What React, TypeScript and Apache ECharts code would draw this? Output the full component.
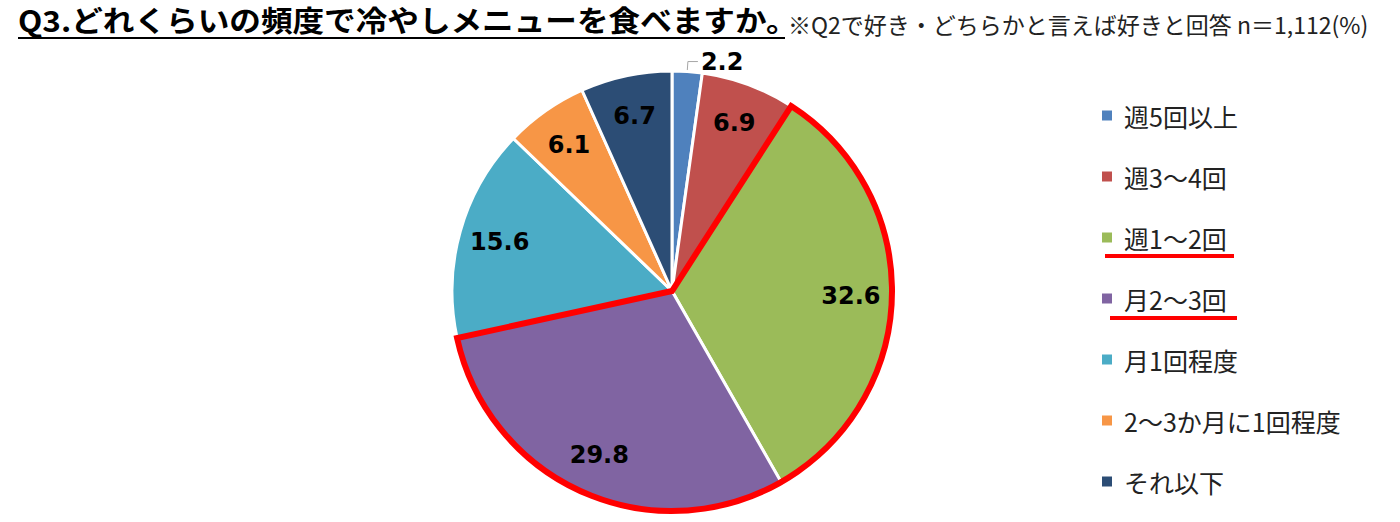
import React, { useEffect, useRef } from "react";
import * as echarts from "echarts";

const categories = ["週5回以上", "週3～4回", "週1～2回", "月2～3回", "月1回程度", "2～3か月に1回程度", "それ以下"];
const values = [2.2, 6.9, 32.6, 29.8, 15.6, 6.1, 6.7];
const colors = ["#4F81BD", "#C0504D", "#9BBB59", "#8064A2", "#4BACC6", "#F79646", "#2C4D75"];
const highlighted = [2, 3];
const titleText = "Q3.どれくらいの頻度で冷やしメニューを食べますか。";
const subText = "※Q2で好き・どちらかと言えば好きと回答 n＝1,112(%)";

export default function App() {
  const ref = useRef<HTMLDivElement>(null);
  useEffect(() => {
    document.body.style.margin = "0";
    const chart = echarts.init(ref.current!, null, { renderer: "svg" });
    const center = [672, 291];
    const R = 220;
    const sum = (a: number[]) => Math.round(a.reduce((s, x) => s + x, 0) * 10) / 10;
    const before = sum(values.slice(0, highlighted[0]));
    const mid = sum(values.slice(highlighted[0], highlighted[1] + 1));
    const after = sum(values.slice(highlighted[1] + 1));
    const cjk = "'Noto Sans CJK JP', 'Noto Sans', sans-serif";
    chart.setOption({
      animation: false,
      legend: {
        data: categories,
        orient: "vertical",
        left: 1100,
        top: 103,
        padding: 0,
        itemWidth: 12,
        itemHeight: 12,
        itemGap: 36,
        icon: "rect",
        selectedMode: false,
        textStyle: { fontSize: 25, lineHeight: 25, color: "#222", fontFamily: cjk, padding: [0, 0, 0, 6] },
      },
      series: [
        {
          type: "pie",
          center,
          radius: R,
          startAngle: 90,
          silent: true,
          label: { show: false },
          labelLine: { show: false },
          itemStyle: { borderColor: "#fff", borderWidth: 3 },
          data: categories.map((c, i) => ({ name: c, value: values[i], itemStyle: { color: colors[i] } })),
        },
        {
          type: "pie",
          center,
          radius: [R * 0.6, R],
          startAngle: 90,
          silent: true,
          avoidLabelOverlap: false,
          itemStyle: { color: "transparent", borderWidth: 0 },
          label: {
            show: true,
            position: "inside",
            formatter: (p: any) => p.value.toFixed(1),
            fontSize: 24,
            fontWeight: "bold",
            color: "#000",
            fontFamily: "'DejaVu Sans', sans-serif",
          },
          labelLine: { show: false },
          data: categories.map((c, i) =>
            i === 0
              ? {
                  name: c,
                  value: values[i],
                  label: { position: "outside", distanceToLabelLine: 3 },
                  labelLine: { show: true, length: 10, length2: 10, lineStyle: { color: "#A6A6A6", width: 1 } },
                }
              : { name: c, value: values[i] }
          ),
        },
        {
          type: "pie",
          center,
          radius: R,
          startAngle: 90,
          silent: true,
          label: { show: false },
          labelLine: { show: false },
          data: [
            { name: "", value: before, itemStyle: { color: "transparent" } },
            {
              name: "",
              value: mid,
              itemStyle: { color: "transparent", borderColor: "#FF0000", borderWidth: 6, borderJoin: "miter" },
            },
            { name: "", value: after, itemStyle: { color: "transparent" } },
          ],
        },
      ],
      graphic: [
        {
          type: "text",
          x: 18,
          y: 20,
          scaleX: 1.09,
          style: {
            text: titleText,
            fontSize: 29,
            fontWeight: "bold",
            fill: "#000",
            fontFamily: cjk,
            textVerticalAlign: "middle",
            verticalAlign: "middle",
          },
        },
        {
          type: "text",
          x: 788,
          y: 24,
          style: {
            text: subText,
            fontSize: 23,
            fill: "#222",
            fontFamily: cjk,
            textVerticalAlign: "middle",
            verticalAlign: "middle",
          },
        },
        { type: "line", shape: { x1: 18, y1: 38, x2: 785, y2: 38 }, style: { stroke: "#000", lineWidth: 2 } },
        { type: "line", shape: { x1: 1105, y1: 256, x2: 1234, y2: 256 }, style: { stroke: "#FF0000", lineWidth: 4 } },
        { type: "line", shape: { x1: 1110, y1: 318, x2: 1237, y2: 318 }, style: { stroke: "#FF0000", lineWidth: 4 } },
      ],
    });
    return () => chart.dispose();
  }, []);
  return <div ref={ref} style={{ width: 1400, height: 522 }} />;
}
